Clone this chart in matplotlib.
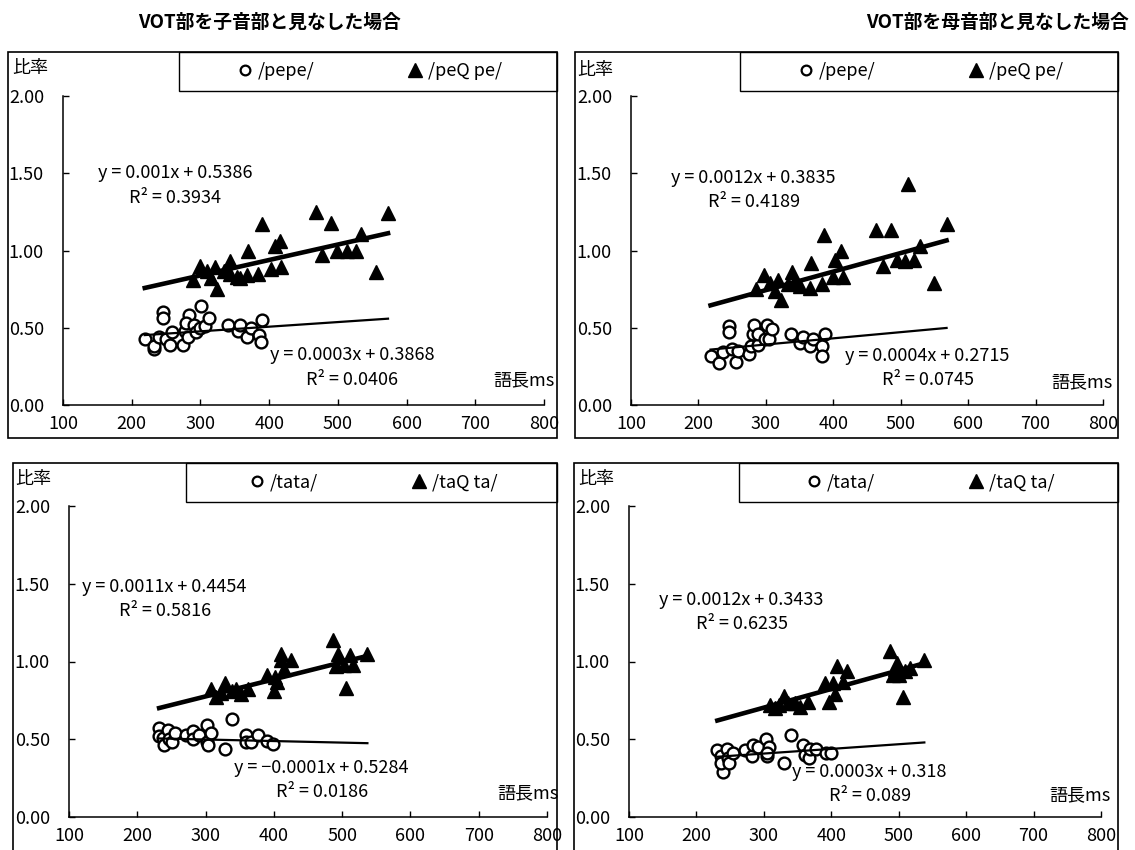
import matplotlib
matplotlib.use('Agg')
import matplotlib.pyplot as plt
import matplotlib.patches as patches
from matplotlib.lines import Line2D
import numpy as np

plt.rcParams['font.family'] = ['Noto Sans CJK JP', 'DejaVu Sans']

W, H = 1135, 850
FS = 13

# --- data ---
titles = ['VOT部を子音部と見なした場合', 'VOT部を母音部と見なした場合']
y_label = '比率'
x_label = '語長ms'
x_ticks = [100, 200, 300, 400, 500, 600, 700, 800]
y_ticks = [0.0, 0.5, 1.0, 1.5, 2.0]

# top left: VOT as consonant
pepe_c_x = [219, 232, 233, 239, 245, 245, 250, 256, 258, 275, 278, 282, 284, 279, 290, 293, 300, 301, 306, 312,
            340, 355, 358, 368, 373, 385, 388, 390]
pepe_c_y = [0.43, 0.36, 0.38, 0.44, 0.60, 0.56, 0.43, 0.39, 0.47, 0.39, 0.48, 0.44, 0.58, 0.53, 0.52, 0.47, 0.50,
            0.64, 0.51, 0.56, 0.52, 0.48, 0.52, 0.44, 0.50, 0.45, 0.41, 0.55]
peqpe_c_x = [299, 289, 310, 315, 321, 324, 335, 343, 343, 353, 358, 368, 369, 384, 390, 403, 408, 416, 417, 468,
             477, 490, 499, 513, 526, 533, 556, 573]
peqpe_c_y = [0.90, 0.81, 0.87, 0.82, 0.89, 0.75, 0.87, 0.93, 0.85, 0.83, 0.82, 0.84, 1.00, 0.85, 1.17, 0.88, 1.03,
             1.06, 0.89, 1.25, 0.97, 1.18, 1.00, 1.00, 1.00, 1.11, 0.86, 1.24]

# top right: VOT as vowel
pepe_v_x = [218, 230, 236, 245, 245, 250, 256, 258, 275, 278, 281, 283, 289, 289, 301, 299, 304, 309, 337, 351,
            355, 365, 370, 383, 384, 387]
pepe_v_y = [0.32, 0.27, 0.34, 0.51, 0.47, 0.36, 0.28, 0.35, 0.33, 0.38, 0.46, 0.52, 0.39, 0.46, 0.52, 0.43, 0.43,
            0.49, 0.46, 0.40, 0.44, 0.38, 0.43, 0.38, 0.32, 0.46]
peqpe_v_x = [285, 297, 306, 313, 318, 323, 333, 339, 341, 351, 366, 367, 383, 386, 399, 403, 412, 414, 463, 473,
             485, 494, 507, 511, 519, 528, 550, 568]
peqpe_v_y = [0.75, 0.84, 0.79, 0.74, 0.81, 0.68, 0.78, 0.86, 0.79, 0.77, 0.76, 0.92, 0.78, 1.10, 0.83, 0.94, 1.00,
             0.83, 1.13, 0.90, 1.13, 0.94, 0.93, 1.43, 0.94, 1.03, 0.79, 1.17]

# bottom left
tata_c_x = [232, 232, 238, 239, 245, 247, 251, 255, 271, 281, 282, 291, 302, 302, 303, 308, 329, 339, 359, 359,
            367, 377, 390, 399]
tata_c_y = [0.57, 0.52, 0.51, 0.46, 0.56, 0.50, 0.48, 0.54, 0.53, 0.55, 0.50, 0.53, 0.59, 0.48, 0.46, 0.54, 0.44,
            0.63, 0.53, 0.48, 0.48, 0.53, 0.49, 0.47]
taqta_c_x = [308, 315, 328, 323, 338, 345, 352, 362, 390, 401, 400, 404, 410, 411, 425, 415, 486, 494, 491, 502,
             512, 516, 505, 537]
taqta_c_y = [0.82, 0.77, 0.86, 0.80, 0.81, 0.82, 0.79, 0.82, 0.91, 0.90, 0.81, 0.87, 1.05, 1.01, 1.01, 0.95, 1.14,
             1.05, 0.97, 0.98, 1.04, 0.98, 0.83, 1.05]

# bottom right
tata_v_x = [231, 237, 239, 237, 245, 247, 249, 254, 272, 283, 284, 292, 303, 304, 308, 330, 340, 358, 361, 367,
            368, 378, 392, 400, 304]
tata_v_y = [0.43, 0.39, 0.29, 0.35, 0.44, 0.38, 0.35, 0.41, 0.43, 0.39, 0.46, 0.45, 0.50, 0.39, 0.45, 0.35, 0.53,
            0.46, 0.40, 0.38, 0.44, 0.44, 0.41, 0.41, 0.41]
taqta_v_x = [309, 316, 323, 330, 336, 346, 353, 365, 391, 396, 402, 405, 409, 417, 424, 487, 495, 498, 501, 506,
             509, 517, 538, 492]
taqta_v_y = [0.72, 0.70, 0.72, 0.78, 0.73, 0.73, 0.71, 0.74, 0.86, 0.74, 0.86, 0.79, 0.97, 0.87, 0.94, 1.07, 0.95,
             0.99, 0.91, 0.77, 0.94, 0.96, 1.01, 0.91]

# trendline coefficients as printed: [circle series, triangle series]
slopes = [[0.0003, 0.001], [0.0004, 0.0012], [-0.0001, 0.0011], [0.0003, 0.0012]]
intercepts = [[0.3868, 0.5386], [0.2715, 0.3835], [0.5284, 0.4454], [0.318, 0.3433]]
eq_texts = [['y = 0.0003x + 0.3868\nR² = 0.0406', 'y = 0.001x + 0.5386\nR² = 0.3934'],
            ['y = 0.0004x + 0.2715\nR² = 0.0745', 'y = 0.0012x + 0.3835\nR² = 0.4189'],
            ['y = −0.0001x + 0.5284\nR² = 0.0186', 'y = 0.0011x + 0.4454\nR² = 0.5816'],
            ['y = 0.0003x + 0.318\nR² = 0.089', 'y = 0.0012x + 0.3433\nR² = 0.6235']]
legend_labels = [['/pepe/', '/peQ pe/'], ['/pepe/', '/peQ pe/'],
                 ['/tata/', '/taQ ta/'], ['/tata/', '/taQ ta/']]
series = [(pepe_c_x, pepe_c_y, peqpe_c_x, peqpe_c_y),
          (pepe_v_x, pepe_v_y, peqpe_v_x, peqpe_v_y),
          (tata_c_x, tata_c_y, taqta_c_x, taqta_c_y),
          (tata_v_x, tata_v_y, taqta_v_x, taqta_v_y)]

# --- layout in pixels ---
axes_px = [(63, 96, 544, 405), (631, 96, 1103, 405), (69, 506, 547, 817), (629, 506, 1101, 817)]
frame_px = [(8, 52, 557, 438), (575, 52, 1118, 438), (13, 463, 557, 880), (574, 463, 1118, 880)]
legbox_px = [(179, 52, 557, 91), (740, 52, 1118, 91), (186, 463, 557, 502), (739, 463, 1118, 502)]
ylab_px = [(12, 68), (577, 70), (15, 479), (578, 479)]
xlab_px = [(555, 380), (1113, 382), (559, 793), (1111, 795)]
eq_pos = [[(521, 0.243), (263, 1.42)], [(540, 0.24), (282, 1.39)],
          [(470, 0.24), (240, 1.40)], [(457, 0.21), (267, 1.32)]]


def fx(x):
    return x / W


def fy(y):
    return 1 - y / H


fig = plt.figure(figsize=(W / 100, H / 100), dpi=100)
fig.patch.set_facecolor('white')

fig.text(fx(269), fy(22), titles[0], fontsize=13.5, fontweight='bold', ha='center', va='center')
fig.text(fx(997), fy(22), titles[1], fontsize=13.5, fontweight='bold', ha='center', va='center')

for i in range(4):
    x0, y0, x1, y1 = axes_px[i]
    ax = fig.add_axes([fx(x0), fy(y1), (x1 - x0) / W, (y1 - y0) / H])
    cx, cy, tx, ty = series[i]

    ax.plot(cx, cy, 'o', ms=8.5, mfc='white', mec='black', mew=1.7, zorder=3)
    ax.plot(tx, ty, '^', ms=10.5, color='black', zorder=3)

    lo = min(min(cx), min(tx))
    hi = max(max(cx), max(tx))
    xs = np.array([lo, hi])
    ax.plot(xs, slopes[i][0] * xs + intercepts[i][0], color='black', lw=1.6, zorder=4)
    ax.plot(xs, slopes[i][1] * xs + intercepts[i][1], color='black', lw=3.3, zorder=4)

    for (ex, ey), txt in zip(eq_pos[i], eq_texts[i]):
        ax.text(ex, ey, txt, fontsize=FS, ha='center', va='center', multialignment='center',
                linespacing=1.45, clip_on=False, zorder=5)

    ax.set_xlim(100, 800)
    ax.set_ylim(0, 2)
    ax.set_xticks(x_ticks)
    ax.set_xticklabels([str(t) for t in x_ticks])
    ax.set_yticks(y_ticks)
    ax.set_yticklabels(['%.2f' % t for t in y_ticks])
    for lab in ax.get_yticklabels():
        lab.set_horizontalalignment('left')
    ax.tick_params(direction='in', length=4, width=1, labelsize=FS, colors='black')
    ax.tick_params(axis='y', pad=39)
    ax.tick_params(axis='x', pad=7)
    ax.spines[['top', 'right']].set_visible(False)
    for s in ['left', 'bottom']:
        ax.spines[s].set_linewidth(1.1)
    ax.patch.set_alpha(0)

    # outer chart frame and legend box
    a0, b0, a1, b1 = frame_px[i]
    fig.add_artist(patches.Rectangle((fx(a0), fy(b1)), (a1 - a0) / W, (b1 - b0) / H,
                                     transform=fig.transFigure, fill=False, ec='black', lw=1.2))
    l0, m0, l1, m1 = legbox_px[i]
    fig.add_artist(patches.Rectangle((fx(l0), fy(m1)), (l1 - l0) / W, (m1 - m0) / H,
                                     transform=fig.transFigure, fill=False, ec='black', lw=1.0))
    handles = [Line2D([], [], ls='none', marker='o', ms=7, mfc='white', mec='black', mew=1.6),
               Line2D([], [], ls='none', marker='^', ms=10, color='black')]
    ax.legend(handles, legend_labels[i], loc='center', ncol=2, frameon=False,
              bbox_to_anchor=(fx((l0 + l1) / 2 + 2), fy((m0 + m1) / 2)), bbox_transform=fig.transFigure,
              fontsize=FS, handlelength=0.8, handletextpad=0.3, columnspacing=5.2)

    fig.text(fx(ylab_px[i][0]), fy(ylab_px[i][1]), y_label, fontsize=FS, ha='left', va='center')
    fig.text(fx(xlab_px[i][0]), fy(xlab_px[i][1]), x_label, fontsize=FS, ha='right', va='center')

fig.savefig('out.png', dpi=100)
